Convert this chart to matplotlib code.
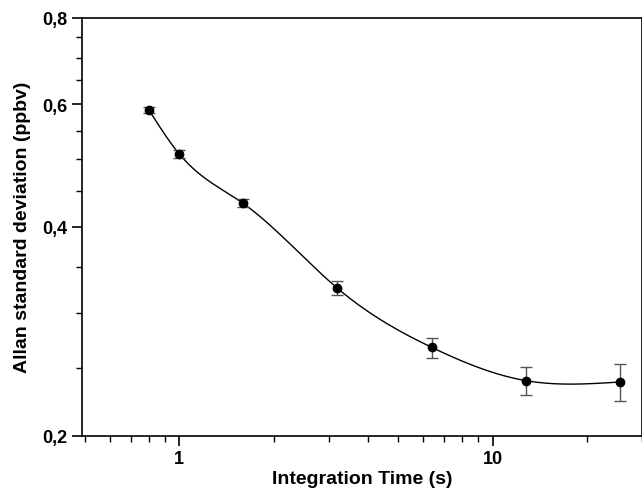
import numpy as np
import matplotlib
matplotlib.use('Agg')
import matplotlib.pyplot as plt
from matplotlib.ticker import FixedLocator, FuncFormatter, LogLocator, NullFormatter

tau = [0.8, 1.0, 1.6, 3.2, 6.4, 12.8, 25.6]
sigma = [0.589, 0.509, 0.432, 0.326, 0.268, 0.240, 0.239]
sigma_err = [0.006, 0.0068, 0.0058, 0.0076, 0.0089, 0.0112, 0.015]

plt.rcParams['font.family'] = ['Liberation Sans', 'DejaVu Sans']
plt.rcParams['font.weight'] = 'bold'


def natural_spline(x, y, xs):
    n = len(x)
    h = np.diff(x)
    A = np.zeros((n, n))
    r = np.zeros(n)
    A[0, 0] = A[-1, -1] = 1
    for i in range(1, n - 1):
        A[i, i - 1] = h[i - 1]
        A[i, i] = 2 * (h[i - 1] + h[i])
        A[i, i + 1] = h[i]
        r[i] = 6 * ((y[i + 1] - y[i]) / h[i] - (y[i] - y[i - 1]) / h[i - 1])
    M = np.linalg.solve(A, r)
    i = np.clip(np.searchsorted(x, xs) - 1, 0, n - 2)
    a, b = x[i + 1] - xs, xs - x[i]
    return (M[i] * a**3 + M[i + 1] * b**3) / (6 * h[i]) \
        + (y[i] / h[i] - M[i] * h[i] / 6) * a + (y[i + 1] / h[i] - M[i + 1] * h[i] / 6) * b


fig = plt.figure(figsize=(6.42, 4.89), dpi=100)
ax = fig.add_axes([0.128, 0.107, 0.872, 0.855])

lx, ly = np.log10(tau), np.log10(sigma)
xs = np.linspace(lx[0], lx[-1], 300)
ax.plot(10 ** xs, 10 ** natural_spline(lx, ly, xs), color='black', lw=1)

ax.errorbar(tau, sigma, yerr=sigma_err, fmt='o', color='black', ms=6,
            ecolor='#555555', elinewidth=1, capsize=4, capthick=1)

ax.set_xscale('log')
ax.set_yscale('log')
ax.set_xlim(0.49, 30)
ax.set_ylim(0.2, 0.8)

ax.xaxis.set_major_locator(FixedLocator([1, 10]))
ax.xaxis.set_major_formatter(FuncFormatter(lambda v, _: f'{v:g}'))
ax.xaxis.set_minor_locator(LogLocator(subs=np.arange(2, 10)))
ax.xaxis.set_minor_formatter(NullFormatter())
ax.yaxis.set_major_locator(FixedLocator([0.2, 0.4, 0.6, 0.8]))
ax.yaxis.set_major_formatter(FuncFormatter(lambda v, _: f'{v:.1f}'.replace('.', ',')))
ax.yaxis.set_minor_locator(FixedLocator(np.arange(0.25, 0.8, 0.05)))
ax.yaxis.set_minor_formatter(NullFormatter())

ax.tick_params(which='major', direction='out', length=7, width=1.2, labelsize=13)
ax.tick_params(which='minor', direction='out', length=4, width=1)
for s_ in ax.spines.values():
    s_.set_linewidth(1.2)

ax.set_xlabel('Integration Time (s)', fontsize=14, fontweight='bold', labelpad=2)
ax.set_ylabel('Allan standard deviation (ppbv)', fontsize=14, fontweight='bold', labelpad=8)

fig.savefig('out.png', dpi=100)
